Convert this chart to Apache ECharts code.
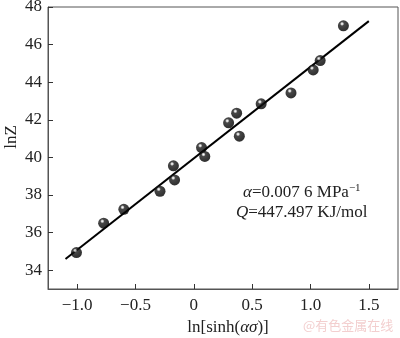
<!DOCTYPE html>
<html><head><meta charset="utf-8">
<script src="https://cdn.jsdelivr.net/npm/echarts@6/dist/echarts.min.js"></script>
<style>html,body{margin:0;padding:0;background:#fff}#c{width:400px;height:338px}</style>
</head><body><div id="c"></div>
<script>
const xValues = [-1.006, -0.773, -0.60, -0.29, -0.165, -0.175, 0.066, 0.094, 0.298, 0.367, 0.39, 0.577, 0.833, 1.023, 1.083, 1.282];
const yValues = [34.94, 36.50, 37.24, 38.20, 38.80, 39.55, 40.52, 40.05, 41.84, 42.35, 41.13, 42.85, 43.43, 44.65, 45.15, 47.00];
const fitX = [-1.1, 1.5];
const fitY = [34.6, 47.25];
const xTicks = [-1.0, -0.5, 0, 0.5, 1.0, 1.5];
const yTicks = [34, 36, 38, 40, 42, 44, 46, 48];

const serif = 'Liberation Serif';
const FS = 17;
const chart = echarts.init(document.getElementById('c'));
const pts = xValues.map((x, i) => [x, yValues[i]]);
const fit = fitX.map((x, i) => [x, fitY[i]]);
chart.setOption({
  animation: false,
  grid: {left: 48, top: 7, right: 2, bottom: 49, outerBoundsMode: 'none', containLabel: false, show: true, borderColor: '#555', borderWidth: 1},
  xAxis: {
    type: 'value', min: -1.25, max: 1.75,
    axisLine: {onZero: false, lineStyle: {color: '#555', width: 1}},
    axisTick: {inside: true, length: 5, customValues: xTicks, lineStyle: {color: '#333'}},
    splitLine: {show: false},
    axisLabel: {customValues: xTicks, margin: 8, color: '#222', fontFamily: serif, fontSize: FS,
      formatter: v => v === 0 ? '0' : (v < 0 ? '\u2212' + Math.abs(v).toFixed(1) : v.toFixed(1))},
    name: '{n|ln[sinh(}{i|ασ}{n|)]}', nameLocation: 'middle', nameGap: 29,
    nameTextStyle: {padding: [0, 0, 0, 10], rich: {n: {fontFamily: serif, fontSize: FS, color: '#222'}, i: {fontFamily: serif, fontSize: FS, fontStyle: 'italic', color: '#222'}}}
  },
  yAxis: {
    type: 'value', min: 33, max: 48,
    axisLine: {show: true, onZero: false, lineStyle: {color: '#555', width: 1}},
    axisTick: {show: true, inside: true, length: 5, customValues: yTicks, lineStyle: {color: '#333'}},
    splitLine: {show: false},
    axisLabel: {customValues: yTicks, margin: 6, color: '#222', fontFamily: serif, fontSize: FS}
  },
  series: [
    {type: 'line', data: fit, symbol: 'none', lineStyle: {color: '#000', width: 2}, z: 2},
    {type: 'scatter', data: pts, symbolSize: 11, z: 3,
      itemStyle: {color: {type: 'radial', x: 0.38, y: 0.32, r: 0.6, colorStops: [
        {offset: 0, color: '#ffffff'}, {offset: 0.14, color: '#cccccc'}, {offset: 0.32, color: '#1a1a1a'}, {offset: 1, color: '#000'}]}}}
  ],
  graphic: [
    {type: 'text', x: 12, y: 137, rotation: Math.PI / 2, style: {text: 'lnZ', fontFamily: serif, fontSize: FS, fill: '#222', align: 'center', verticalAlign: 'middle'}},
    {type: 'text', left: 243, top: 183, style: {
      text: '{i|α}{n|=0.007 6 MPa}{s|\u22121}',
      rich: {n: {fontFamily: serif, fontSize: FS, fill: '#222'}, i: {fontFamily: serif, fontSize: FS, fontStyle: 'italic', fill: '#222'}, s: {fontFamily: serif, fontSize: 11, fill: '#222', verticalAlign: 'top', padding: [0, 0, 8, 0]}}}},
    {type: 'text', left: 236, top: 204, style: {
      text: '{i|Q}{n|=447.497 KJ/mol}',
      rich: {n: {fontFamily: serif, fontSize: FS, fill: '#222'}, i: {fontFamily: serif, fontSize: FS, fontStyle: 'italic', fill: '#222'}}}},
    {type: 'text', left: 303, top: 319, style: {text: '@有色金属在线', fontFamily: 'Noto Sans CJK SC', fontSize: 13, fill: '#f3cfcf'}}
  ]
});
</script></body></html>
